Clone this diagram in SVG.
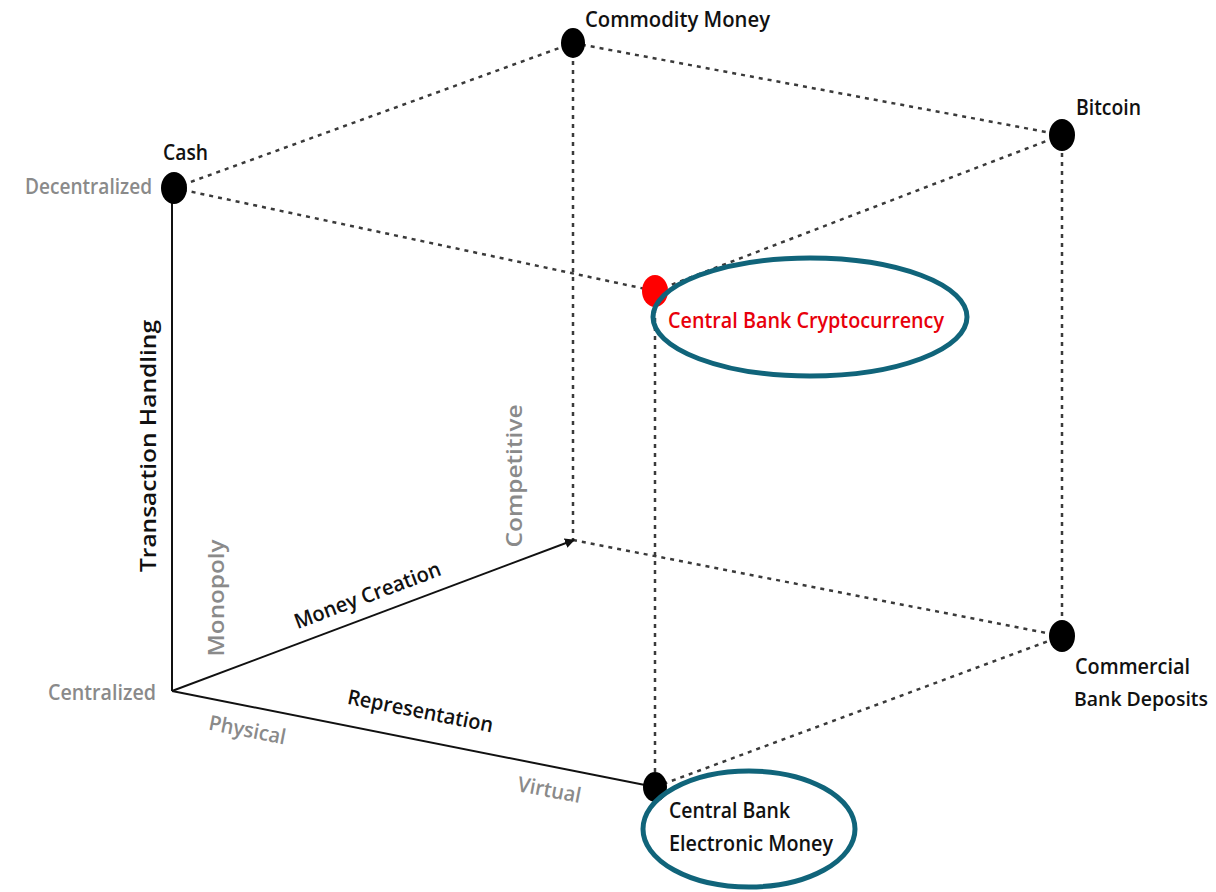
<svg xmlns="http://www.w3.org/2000/svg" width="1216" height="892" viewBox="0 0 1216 892">
  <style>
    .lbl { font-family: "Open Sans", "Liberation Sans", sans-serif; font-weight: 600; font-size: 21px; fill: #111; }
    .axis { font-family: "Open Sans", "Liberation Sans", sans-serif; font-weight: 600; font-size: 21px; fill: #111; }
    .pole { font-family: "Open Sans", "Liberation Sans", sans-serif; font-weight: 600; font-size: 21px; fill: #8a8a8a; }
    .dot { stroke: #3a3a3a; stroke-width: 2.5; stroke-dasharray: 4 5; fill: none; }
    .axisline { stroke: #111; stroke-width: 2; fill: none; }
    .ring { fill: none; stroke: #10647a; stroke-width: 5; }
  </style>
  <defs>
    <marker id="arrowhead" markerWidth="10" markerHeight="10" refX="9" refY="5" orient="auto" markerUnits="userSpaceOnUse" viewBox="0 0 10 10">
      <path d="M0,0 L10,5 L0,10 z" fill="#111"/>
    </marker>
  </defs>

  <!-- cube edges and axes -->
  <g id="connectors">
    <line class="dot" x1="174" y1="188" x2="573" y2="43"/>
    <line class="dot" x1="573" y1="43" x2="1062" y2="135"/>
    <line class="dot" x1="174" y1="188" x2="655" y2="291"/>
    <line class="dot" x1="655" y1="291" x2="1062" y2="135"/>
    <line class="dot" x1="573" y1="43" x2="573" y2="540"/>
    <line class="dot" x1="1062" y1="135" x2="1062" y2="636"/>
    <line class="dot" x1="655" y1="291" x2="655" y2="787"/>
    <line class="dot" x1="573" y1="540" x2="1062" y2="636"/>
    <line class="dot" x1="655" y1="787" x2="1062" y2="636"/>
    <line class="axisline" x1="172" y1="691" x2="172" y2="200"/>
    <line class="axisline" x1="172" y1="691" x2="574" y2="540" marker-end="url(#arrowhead)"/>
    <line class="axisline" x1="172" y1="691" x2="655" y2="787"/>
  </g>

  <!-- axis titles and pole labels -->
  <g id="axes">
    <text class="axis" transform="translate(156,446) rotate(-90)" text-anchor="middle" textLength="252" lengthAdjust="spacingAndGlyphs">Transaction Handling</text>
    <text class="pole" transform="translate(522,476) rotate(-90)" text-anchor="middle" textLength="143" lengthAdjust="spacingAndGlyphs">Competitive</text>
    <text class="pole" transform="translate(224,598) rotate(-90)" text-anchor="middle" textLength="117" lengthAdjust="spacingAndGlyphs">Monopoly</text>
    <text class="axis" transform="translate(370,602) rotate(-20.5)" text-anchor="middle" textLength="155" lengthAdjust="spacingAndGlyphs">Money Creation</text>
    <text class="axis" transform="translate(419,718) rotate(11.2)" text-anchor="middle" textLength="148" lengthAdjust="spacingAndGlyphs">Representation</text>
    <text class="pole" transform="translate(246,737) rotate(11)" text-anchor="middle" textLength="78" lengthAdjust="spacingAndGlyphs">Physical</text>
    <text class="pole" transform="translate(548,797) rotate(11)" text-anchor="middle" textLength="64" lengthAdjust="spacingAndGlyphs">Virtual</text>
    <text class="pole" x="25" y="194" textLength="127" lengthAdjust="spacingAndGlyphs">Decentralized</text>
    <text class="pole" x="48" y="700" textLength="108" lengthAdjust="spacingAndGlyphs">Centralized</text>
  </g>

  <g id="node-commodity-money">
    <ellipse cx="573" cy="43" rx="12" ry="15" fill="#000"/>
    <text class="lbl" x="585" y="27" textLength="185" lengthAdjust="spacingAndGlyphs">Commodity Money</text>
  </g>

  <g id="node-bitcoin">
    <ellipse cx="1062" cy="135" rx="13" ry="16" fill="#000"/>
    <text class="lbl" x="1076" y="115" textLength="65" lengthAdjust="spacingAndGlyphs">Bitcoin</text>
  </g>

  <g id="node-cash">
    <ellipse cx="174" cy="188" rx="13" ry="16" fill="#000"/>
    <text class="lbl" x="163" y="160" textLength="45" lengthAdjust="spacingAndGlyphs">Cash</text>
  </g>

  <g id="node-cb-cryptocurrency">
    <ellipse cx="655" cy="291" rx="13" ry="16" fill="#ff0000"/>
    <ellipse class="ring" cx="810" cy="317" rx="157" ry="59"/>
    <text class="lbl" x="668" y="328" style="fill:#e8000b; font-size:22px" textLength="276" lengthAdjust="spacingAndGlyphs">Central Bank Cryptocurrency</text>
  </g>

  <g id="node-commercial-bank-deposits">
    <ellipse cx="1062" cy="636" rx="13" ry="16" fill="#000"/>
    <text class="lbl" x="1075" y="674" textLength="115" lengthAdjust="spacingAndGlyphs">Commercial</text>
    <text class="lbl" x="1074" y="706" style="font-size:19px" textLength="134" lengthAdjust="spacingAndGlyphs">Bank Deposits</text>
  </g>

  <g id="node-cb-electronic-money">
    <ellipse cx="655" cy="787" rx="12" ry="15" fill="#000"/>
    <ellipse class="ring" cx="749" cy="829" rx="106" ry="58"/>
    <text class="lbl" x="669" y="818" textLength="121" lengthAdjust="spacingAndGlyphs">Central Bank</text>
    <text class="lbl" x="669" y="851" textLength="164" lengthAdjust="spacingAndGlyphs">Electronic Money</text>
  </g>
</svg>
